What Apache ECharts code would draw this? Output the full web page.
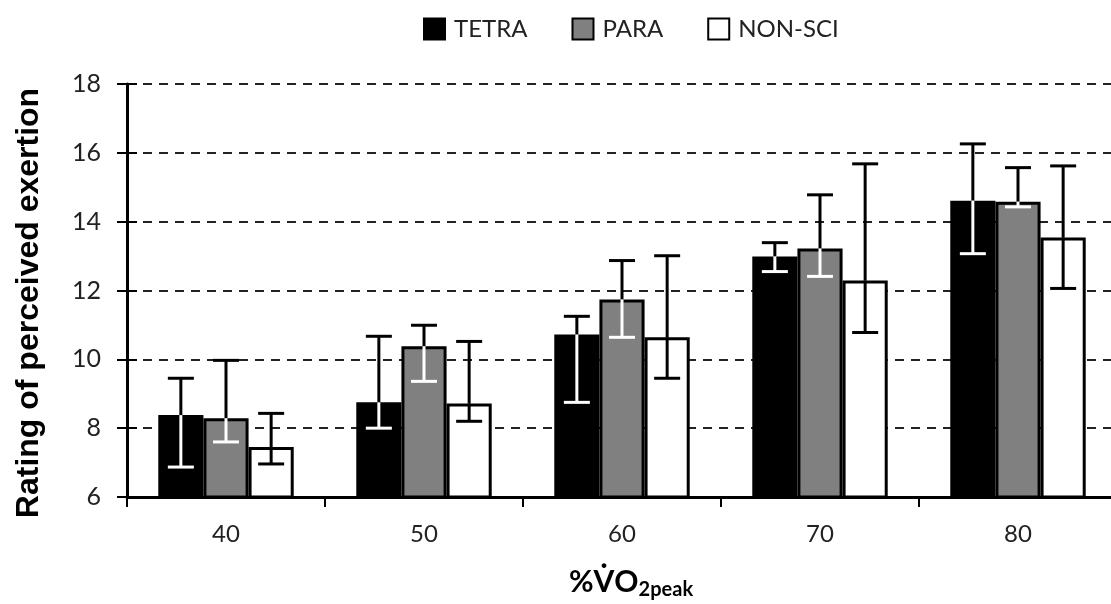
<!DOCTYPE html>
<html>
<head>
<meta charset="utf-8">
<script src="https://cdn.jsdelivr.net/npm/echarts@6/dist/echarts.min.js"></script>
<style>
  html, body { margin: 0; padding: 0; background: #fff; }
  #chart { width: 1111px; height: 604px; }
</style>
</head>
<body>
<div id="chart"></div>
<script>
// categories (% VO2peak)
var categories = ["40", "50", "60", "70", "80"];
var seriesNames = ["TETRA", "PARA", "NON-SCI"];

// means
var tetraMean = [8.38, 8.75, 10.72, 12.99, 14.61];
var paraMean = [8.29, 10.38, 11.74, 13.22, 14.58];
var nonSciMean = [7.45, 8.72, 10.64, 12.29, 13.54];

// error bar ends
var tetraLow = [6.87, 8.0, 8.75, 12.55, 13.07];
var tetraHigh = [9.45, 10.67, 11.25, 13.39, 16.26];
var paraLow = [7.6, 9.36, 10.64, 12.41, 14.43];
var paraHigh = [9.97, 10.99, 12.87, 14.78, 15.57];
var nonSciLow = [6.96, 8.2, 9.45, 10.78, 12.06];
var nonSciHigh = [8.43, 10.52, 13.01, 15.68, 15.62];

// y ticks
var yMin = 6, yMax = 18, yStep = 2;

var BAR_RATIO = 0.228;
var means = [tetraMean, paraMean, nonSciMean];
var lows = [tetraLow, paraLow, nonSciLow];
var highs = [tetraHigh, paraHigh, nonSciHigh];

var errData = [];
for (var i = 0; i < categories.length; i++) {
  for (var s = 0; s < 3; s++) {
    errData.push([i, s, means[s][i], lows[s][i], highs[s][i]]);
  }
}

// whiskers: black above the bar, white inside the dark bars
function renderErr(params, api) {
  var cat = api.value(0);
  var s = api.value(1);
  var band = api.size([1, 0])[0];
  var bw = band * BAR_RATIO;
  var top = api.coord([cat, api.value(2)]);
  var x = top[0] + (s - 1) * bw;
  var yTop = top[1];
  var yLo = api.coord([cat, api.value(3)])[1];
  var yHi = api.coord([cat, api.value(4)])[1];
  var lower = s === 2 ? "#000" : "#fff";
  var cap = 13;
  var st = function (c) { return { stroke: c, lineWidth: 3 }; };
  return {
    type: "group",
    children: [
      { type: "line", shape: { x1: x, y1: yTop, x2: x, y2: yHi }, style: st("#000") },
      { type: "line", shape: { x1: x - cap, y1: yHi, x2: x + cap, y2: yHi }, style: st("#000") },
      { type: "line", shape: { x1: x, y1: yLo, x2: x, y2: yTop }, style: st(lower) },
      { type: "line", shape: { x1: x - cap, y1: yLo, x2: x + cap, y2: yLo }, style: st(lower) }
    ]
  };
}

var chart = echarts.init(document.getElementById("chart"));
var labelFont = "Lato, 'Open Sans', sans-serif";

chart.setOption({
  animation: false,
  backgroundColor: "#fff",
  legend: {
    data: seriesNames,
    top: 12,
    left: 418,
    icon: "rect",
    itemWidth: 21,
    itemHeight: 21,
    itemGap: 44,
    textStyle: { fontFamily: labelFont, fontSize: 24, color: "#222", padding: [0, 0, 0, 4] }
  },
  grid: { left: 127, top: 84, width: 990, height: 413, containLabel: false, outerBoundsMode: "none" },
  graphic: [
    {
      type: "text",
      x: 29,
      y: 303,
      rotation: Math.PI / 2,
      style: {
        text: "Rating of perceived exertion",
        fontFamily: "'Liberation Sans', Arial, sans-serif",
        fontWeight: "bold",
        fontSize: 32,
        fill: "#000",
        align: "center",
        verticalAlign: "middle"
      }
    }
  ],
  xAxis: {
    type: "category",
    data: categories,
    axisLine: { lineStyle: { color: "#000", width: 3 } },
    axisTick: { show: true, length: 10, lineStyle: { color: "#000", width: 2 } },
    axisLabel: { fontFamily: labelFont, fontSize: 24, color: "#222", margin: 25 },
    name: "{a|%V\u0307O}{b|2peak}",
    nameLocation: "middle",
    nameGap: 67,
    nameTextStyle: {
      padding: [0, 0, 0, 18],
      rich: {
        a: { fontFamily: labelFont, fontWeight: "bold", fontSize: 30, color: "#000" },
        b: { fontFamily: labelFont, fontWeight: "bold", fontSize: 20, color: "#000", padding: [16, 0, 0, 0] }
      }
    }
  },
  yAxis: [
    {
      type: "value",
      min: yMin,
      max: yMax,
      interval: yStep,
      axisLine: { show: true, lineStyle: { color: "#000", width: 3 } },
      axisTick: { show: true, length: 10, lineStyle: { color: "#000", width: 2 } },
      axisLabel: { fontFamily: labelFont, fontSize: 25, color: "#222", margin: 26 },
      splitLine: { show: true, lineStyle: { color: "#222", width: 2, type: [9, 7] } }
    },
    {
      type: "value",
      min: yMin,
      max: yMax,
      interval: yStep,
      position: "left",
      axisLine: { show: false },
      axisTick: { show: true, inside: true, length: 10, lineStyle: { color: "#000", width: 2 } },
      axisLabel: { show: false },
      splitLine: { show: false }
    }
  ],
  series: [
    {
      name: "TETRA",
      type: "bar",
      data: tetraMean,
      barWidth: (BAR_RATIO * 100) + "%",
      barGap: "0%",
      itemStyle: { color: "#000", borderColor: "#000", borderWidth: 2 }
    },
    {
      name: "PARA",
      type: "bar",
      data: paraMean,
      barWidth: (BAR_RATIO * 100) + "%",
      barGap: "0%",
      itemStyle: { color: "#808080", borderColor: "#000", borderWidth: 3 }
    },
    {
      name: "NON-SCI",
      type: "bar",
      data: nonSciMean,
      barWidth: (BAR_RATIO * 100) + "%",
      barGap: "0%",
      itemStyle: { color: "#fff", borderColor: "#000", borderWidth: 3 }
    },
    {
      name: "err",
      type: "custom",
      renderItem: renderErr,
      data: errData,
      encode: { x: 0, y: [2, 3, 4] },
      z: 5
    }
  ]
});
</script>
</body>
</html>
